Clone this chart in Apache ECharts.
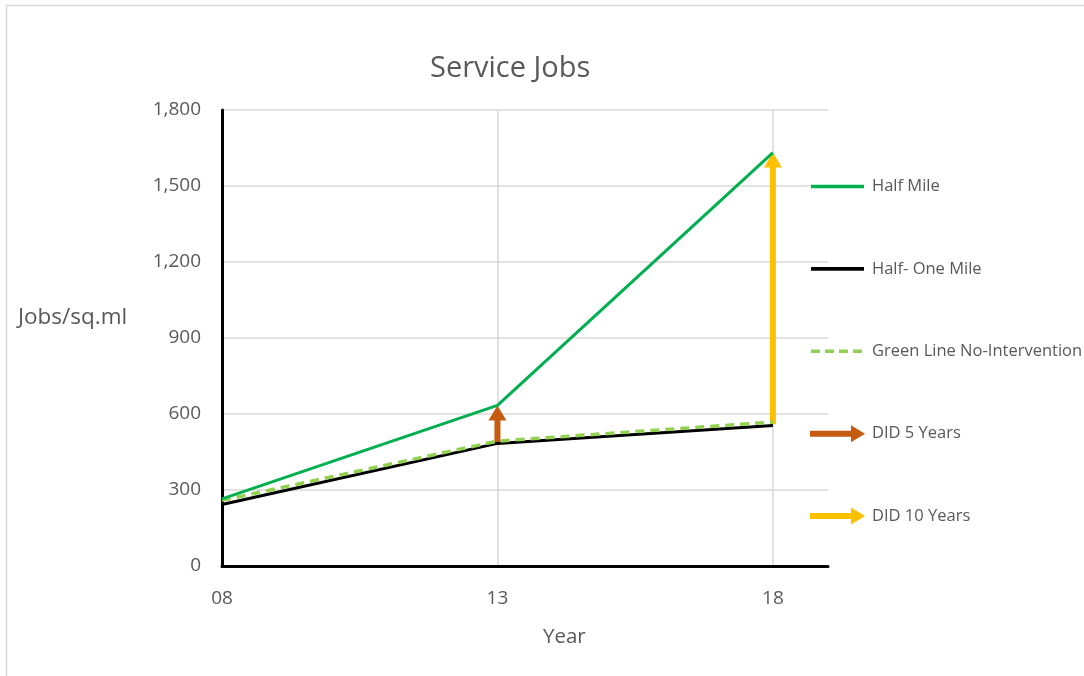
<!DOCTYPE html>
<html>
<head>
<meta charset="utf-8">
<title>Service Jobs</title>
<script src="https://cdn.jsdelivr.net/npm/echarts@6/dist/echarts.min.js"></script>
<style>
  html, body { margin: 0; padding: 0; background: #ffffff; }
  #chart { width: 1084px; height: 676px; }
</style>
</head>
<body>
<div id="chart"></div>
<script>
// Survey years (two-digit) and jobs per square mile
const years = [8, 13, 18];
const yearLabels = ['08', '13', '18'];
const halfMile = [265, 634, 1632];
const halfOneMile = [243, 484, 555];
const noIntervention = [259, 493, 568];
const yTicks = [0, 300, 600, 900, 1200, 1500, 1800];

// Difference-in-differences arrows: [year, from, to]
const did5 = [[13, 484, 634]];
const did10 = [[18, 560, 1632]];

const FONT = '"Open Sans", Lato, sans-serif';
const GRAY = '#595959';

const chart = echarts.init(document.getElementById('chart'), null, { renderer: 'canvas' });

function pairs(xs, ys) { return xs.map((x, i) => [x, ys[i]]); }

// Vertical arrow from (x, y0) to (x, y1) in data space
function arrowRenderer(color) {
  return function (params, api) {
    const base = api.coord([api.value(0), api.value(1)]);
    const tip = api.coord([api.value(0), api.value(2)]);
    const shaftHalf = 3;
    const headHalf = 9;
    const headLen = 15;
    const x = base[0];
    const neck = tip[1] + headLen;
    return {
      type: 'polygon',
      shape: {
        points: [
          [x - shaftHalf, base[1]],
          [x - shaftHalf, neck],
          [x - headHalf, neck],
          [x, tip[1]],
          [x + headHalf, neck],
          [x + shaftHalf, neck],
          [x + shaftHalf, base[1]]
        ]
      },
      style: { fill: color }
    };
  };
}

// Legend glyphs (55 x 17 box); the leading moves pin the bounding box
const solidIcon = 'path://M0,0M55,17M1,6.7h53v3.6h-53z';
const dashIcon = 'path://M0,0M55,17M1,6.7h9v3.6h-9zM15,6.7h9v3.6h-9zM29,6.7h9v3.6h-9zM43,6.7h9v3.6h-9z';
const arrowIcon = 'path://M0,0M55,17M0,5.5L41,5.5L41,0L55,8.5L41,17L41,11.5L0,11.5Z';

const option = {
  backgroundColor: '#ffffff',
  animation: false,
  title: {
    text: 'Service Jobs',
    left: 425,
    top: 49,
    textStyle: { fontFamily: FONT, fontSize: 29, fontWeight: 'normal', color: GRAY }
  },
  grid: { left: 222, right: 256, top: 110, bottom: 110, containLabel: false },
  legend: {
    orient: 'vertical',
    left: 810,
    top: 178,
    padding: 0,
    itemWidth: 55,
    itemHeight: 17,
    itemGap: 65.4,
    textStyle: { fontFamily: FONT, fontSize: 16.5, lineHeight: 17, color: GRAY, padding: [0, 0, 0, 2] },
    data: [
      { name: 'Half Mile', icon: solidIcon },
      { name: 'Half- One Mile', icon: solidIcon },
      { name: 'Green Line No-Intervention', icon: dashIcon },
      { name: 'DID 5 Years', icon: arrowIcon },
      { name: 'DID 10 Years', icon: arrowIcon }
    ]
  },
  xAxis: {
    type: 'value',
    min: 8,
    max: 19,
    interval: 5,
    axisLine: { show: true, onZero: false, lineStyle: { color: '#000000', width: 3 } },
    axisTick: { show: false },
    splitLine: {
      show: true,
      lineStyle: { color: ['transparent', '#d9d9d9', '#d9d9d9', 'transparent'], width: 1.5 }
    },
    axisLabel: {
      margin: 23,
      fontFamily: FONT,
      fontSize: 19,
      color: GRAY,
      formatter: function (v) {
        const i = years.indexOf(v);
        return i >= 0 ? yearLabels[i] : '';
      }
    }
  },
  yAxis: {
    type: 'value',
    min: yTicks[0],
    max: yTicks[yTicks.length - 1],
    interval: yTicks[1] - yTicks[0],
    axisLine: { show: true, lineStyle: { color: '#000000', width: 3 } },
    axisTick: { show: false },
    splitLine: { show: true, lineStyle: { color: '#d9d9d9', width: 1.5 } },
    axisLabel: {
      margin: 21,
      fontFamily: FONT,
      fontSize: 19,
      color: GRAY,
      formatter: function (v) { return v.toLocaleString('en-US'); }
    }
  },
  graphic: [
    {
      type: 'rect',
      silent: true,
      shape: { x: 6.5, y: 5.5, width: 1200, height: 800 },
      style: { fill: 'none', stroke: '#d9d9d9', lineWidth: 1.5 }
    },
    {
      type: 'text',
      left: 18,
      top: 306,
      style: { text: 'Jobs/sq.ml', fontFamily: FONT, fontSize: 22.5, fill: GRAY }
    },
    {
      type: 'text',
      left: 543,
      top: 627,
      style: { text: 'Year', fontFamily: FONT, fontSize: 20.5, fill: GRAY }
    }
  ],
  series: [
    {
      name: 'Half- One Mile',
      type: 'line',
      data: pairs(years, halfOneMile),
      symbol: 'none',
      lineStyle: { color: '#000000', width: 3 },
      itemStyle: { color: '#000000' }
    },
    {
      name: 'Green Line No-Intervention',
      type: 'line',
      data: pairs(years, noIntervention),
      symbol: 'none',
      lineStyle: { color: '#92d050', width: 3.5, type: [9, 6] },
      itemStyle: { color: '#92d050' }
    },
    {
      name: 'Half Mile',
      type: 'line',
      data: pairs(years, halfMile),
      symbol: 'none',
      lineStyle: { color: '#00b050', width: 3 },
      itemStyle: { color: '#00b050' }
    },
    {
      name: 'DID 5 Years',
      type: 'custom',
      data: did5,
      encode: { x: 0, y: [1, 2] },
      renderItem: arrowRenderer('#c55a11'),
      itemStyle: { color: '#c55a11' }
    },
    {
      name: 'DID 10 Years',
      type: 'custom',
      data: did10,
      encode: { x: 0, y: [1, 2] },
      renderItem: arrowRenderer('#ffc000'),
      itemStyle: { color: '#ffc000' }
    }
  ]
};

chart.setOption(option);
</script>
</body>
</html>
